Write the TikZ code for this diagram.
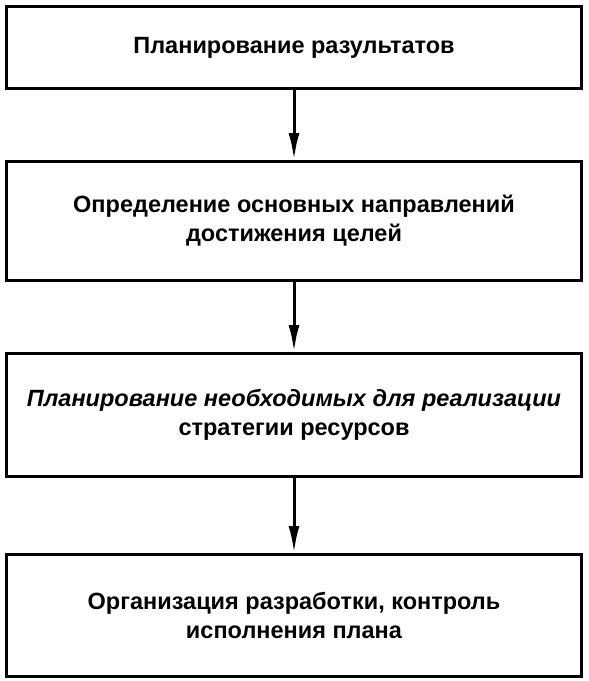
\documentclass[tikz,border=0pt]{standalone}
\usepackage{fontspec}
\setmainfont{Liberation Sans}
\usetikzlibrary{positioning,arrows.meta}
\tikzset{font=\fontsize{23.5}{29}\selectfont\bfseries}

\begin{document}
\begin{tikzpicture}[x=1pt,y=1pt]
	\useasboundingbox (0,0) rectangle (589,-681);
	\begin{scope}
		\tikzstyle{every node}=[draw, line width=3pt, align=center, inner sep=2pt, minimum width=575pt]
		\node[minimum height=82pt] (plan) at (294, -47.5) {Планирование разультатов};
		\node[minimum height=119pt] (napr) at (294, -221) {Определение основных направлений\\достижения целей};
		\node[minimum height=123pt] (res) at (294, -415) {\itshape Планирование необходимых для реализации\\стратегии ресурсов};
		\node[minimum height=122pt] (org) at (294, -615.5) {Организация разработки, контроль\\исполнения плана};

		\draw[line width=3pt, -{Latex[length=27pt, width=11pt]}] (plan) -- (napr);
		\draw[line width=3pt, -{Latex[length=27pt, width=11pt]}] (napr) -- (res);
		\draw[line width=3pt, -{Latex[length=27pt, width=11pt]}] (res) -- (org);

	\end{scope}
\end{tikzpicture}
\end{document}
